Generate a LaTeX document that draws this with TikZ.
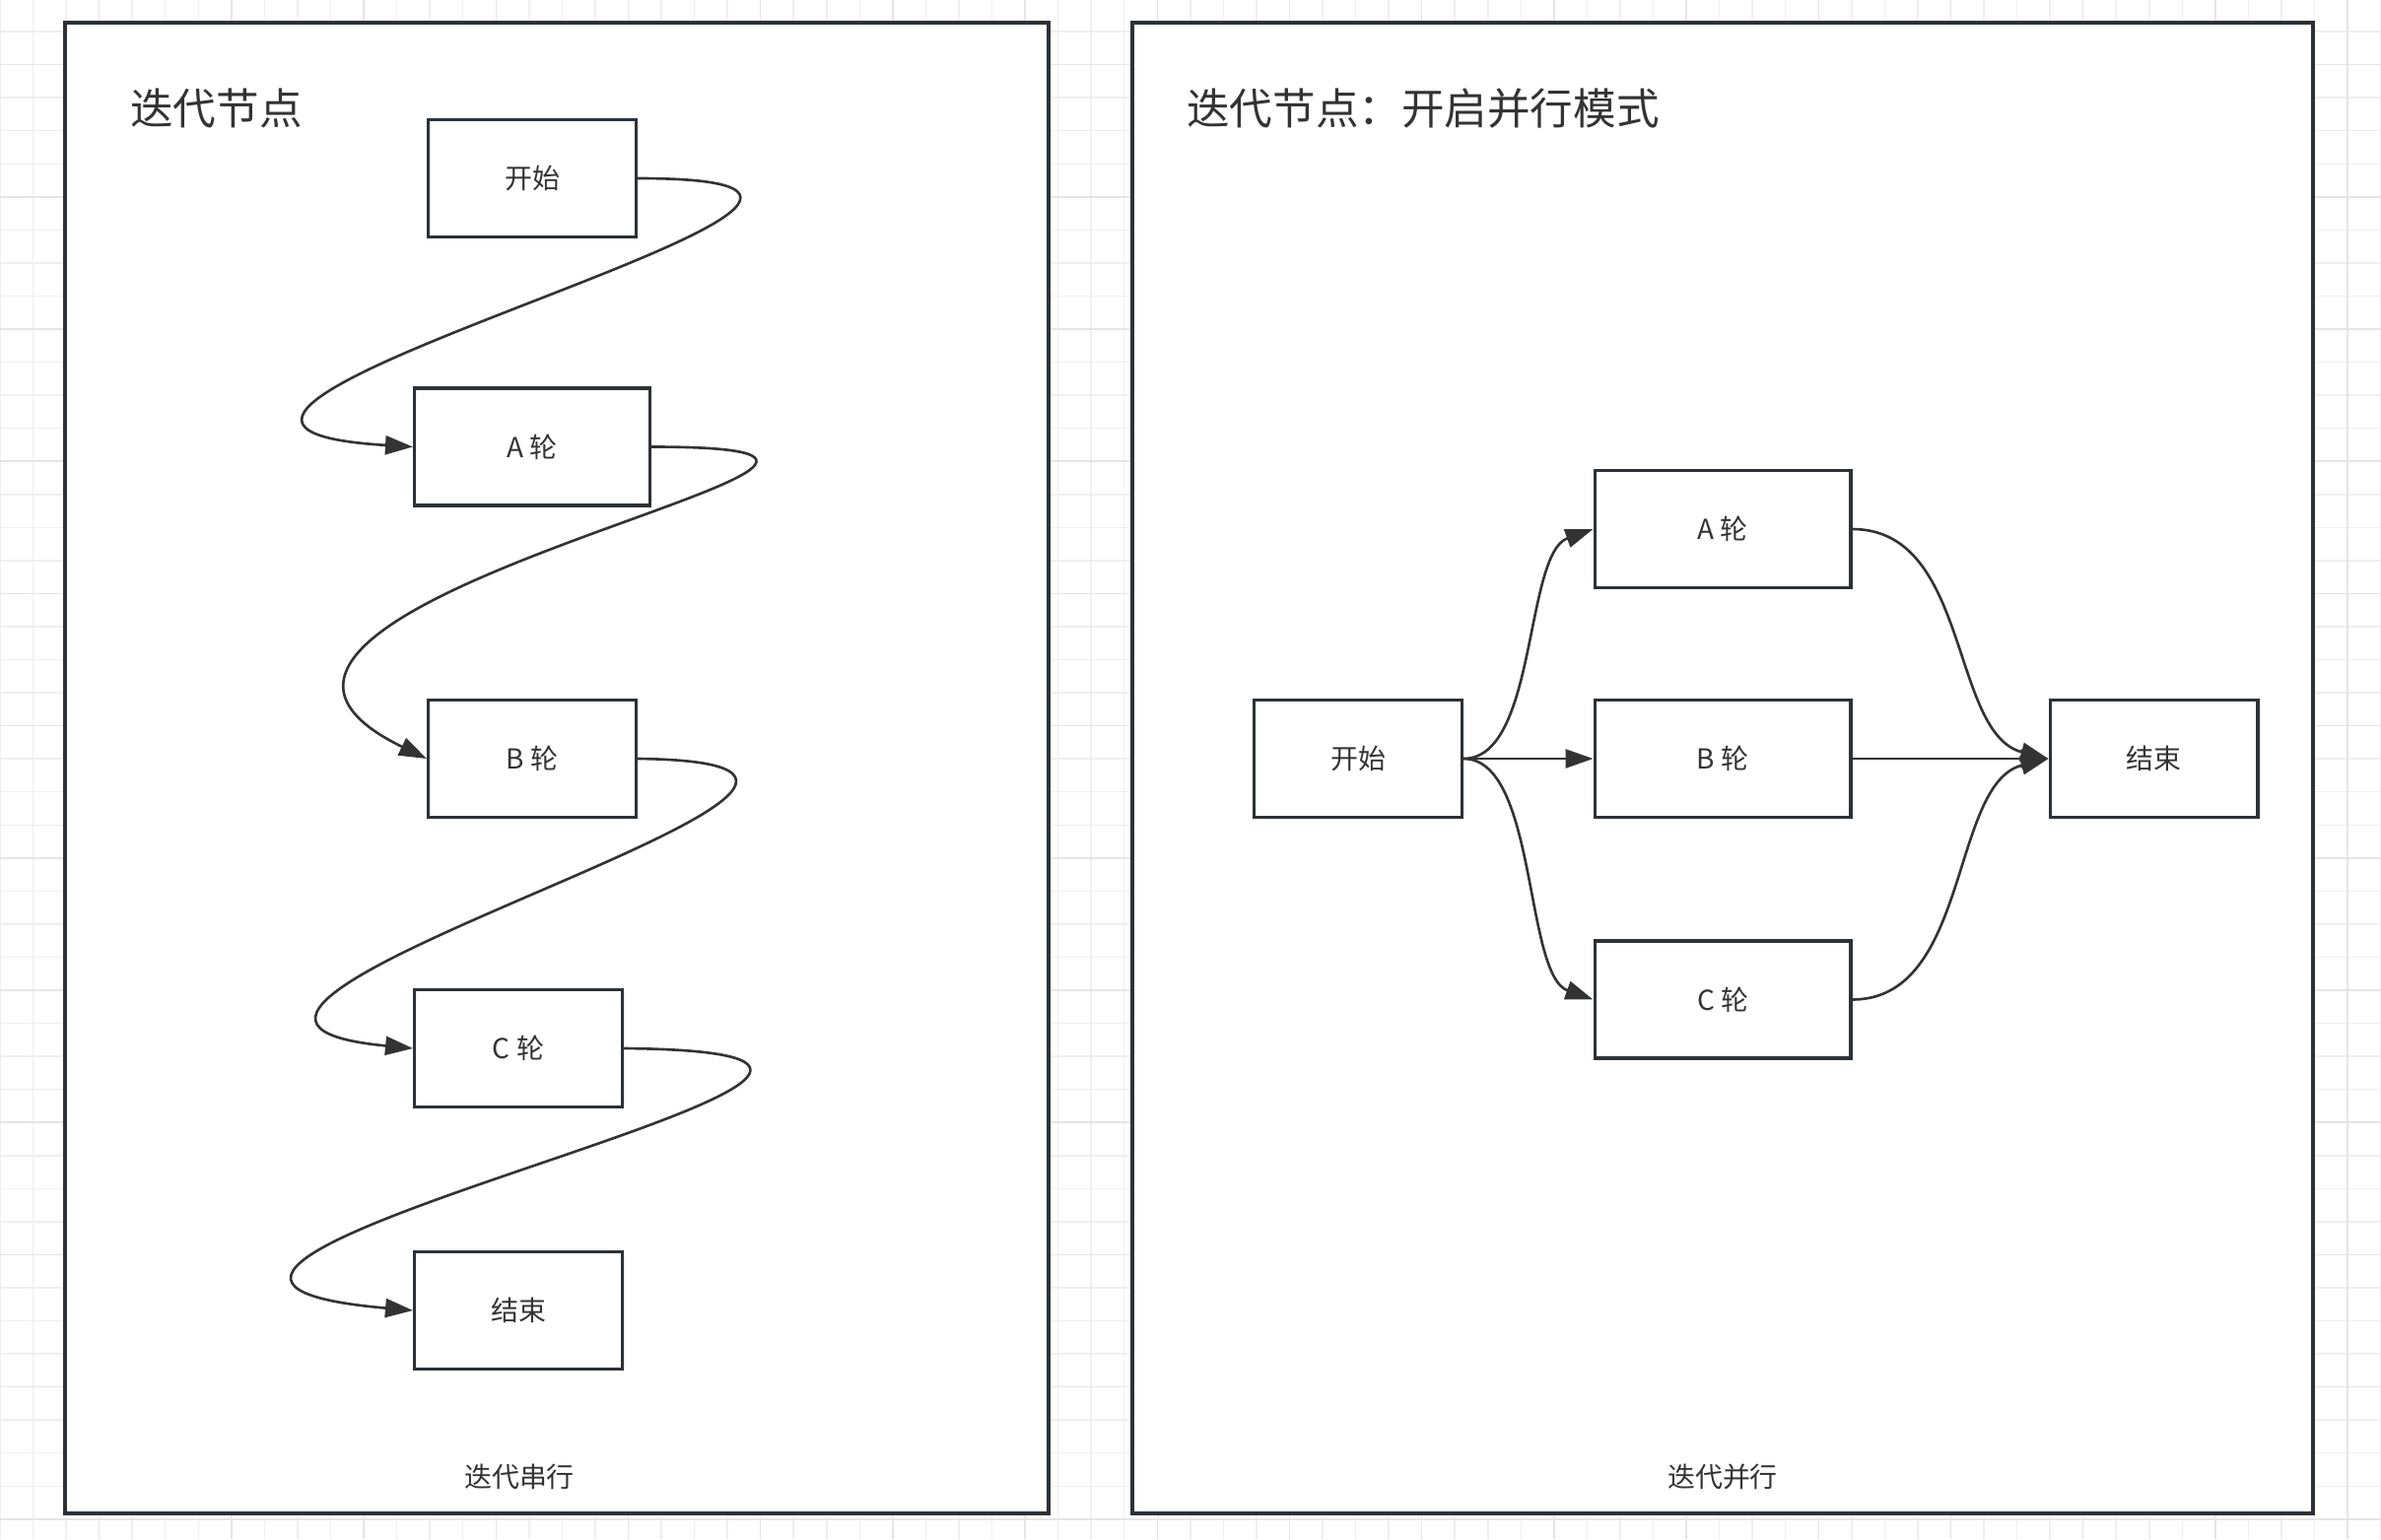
\documentclass[tikz,border=0pt]{standalone}
\usepackage{fontspec}
\setmainfont{Noto Sans CJK SC}
\usetikzlibrary{arrows.meta}
\definecolor{gridminor}{HTML}{EFEFEF}
\definecolor{gridmajor}{HTML}{E5E5E5}
\definecolor{ink}{HTML}{333333}
\definecolor{frame}{HTML}{2C3237}
\begin{document}
\begin{tikzpicture}[x=0.02cm, y=-0.02cm,
  box/.style={draw=frame, line width=1.75pt, fill=white, inner sep=0pt, minimum height=2.38cm, font=\fontsize{15.9}{19}\selectfont, text=ink},
  panel/.style={draw=frame, line width=1.9pt, fill=white},
  flow/.style={draw=ink, line width=1.5pt, -{Triangle[length=0.56cm,width=0.38cm]}},
  title/.style={font=\fontsize{24.8}{30}\selectfont, text=ink, anchor=west, inner sep=0pt},
  caption/.style={font=\fontsize{15.9}{19}\selectfont, text=ink, inner sep=0pt},
  gminor/.style={draw=gridminor, line width=0.85pt},
  gmajor/.style={draw=gridmajor, line width=0.85pt},
]
\useasboundingbox (0,0) rectangle (2416,1562);
\fill[white] (0,0) rectangle (2416,1562);
\begin{scope}
\clip (0,0) rectangle (2416,1562);
\foreach \k in {0,...,72} \draw[gminor] ({33.55*\k},0) -- ({33.55*\k},1562);
\foreach \k in {0,...,47} \draw[gminor] (0,{33.55*\k-1.5}) -- (2416,{33.55*\k-1.5});
\foreach \k in {3,7,...,71} \draw[gmajor] ({33.55*\k},0) -- ({33.55*\k},1562);
\foreach \k in {2,6,...,46} \draw[gmajor] (0,{33.55*\k-1.5}) -- (2416,{33.55*\k-1.5});
\end{scope}

% panels
\draw[panel] (66,23) rectangle (1064,1536);
\draw[panel] (1149,23) rectangle (2347,1536);

% titles and captions
\node[title] (t1) at (132,110) {迭代节点};
\node[title] (t2) at (1204,110) {迭代节点：开启并行模式};
\node[caption] (c1) at (527,1499) {迭代串行};
\node[caption] (c2) at (1748,1499) {迭代并行};

% left: serial
\node[box, minimum width=4.22cm] (l0) at (540,181) {开始};
\node[box, minimum width=4.78cm] (la) at (540,453.5) {A 轮};
\node[box, minimum width=4.22cm] (lb) at (540,770) {B 轮};
\node[box, minimum width=4.22cm] (lc) at (526,1064) {C 轮};
\node[box, minimum width=4.22cm] (le) at (526,1330) {结束};

\draw[flow] (l0.east) .. controls +(432,0) and +(-414,-25) .. (la.west);
\draw[flow] (la.east) .. controls +(420,0) and +(-330,-160) .. (lb.west);
\draw[flow] (lb.east) .. controls +(410,5) and +(-368,-35) .. (lc.west);
\draw[flow] (lc.east) .. controls +(505,5) and +(-458,-40) .. (le.west);

% right: parallel
\node[box, minimum width=4.22cm] (r0) at (1378,770) {开始};
\node[box, minimum width=5.2cm] (ra) at (1748,537) {A 轮};
\node[box, minimum width=5.2cm] (rb) at (1748,770) {B 轮};
\node[box, minimum width=5.2cm] (rc) at (1748,1014.5) {C 轮};
\node[box, minimum width=4.22cm] (re) at (2185.5,770) {结束};

\draw[flow] (r0.east) .. controls +(75,0) and +(-70,25) .. (ra.west);
\draw[flow] (r0.east) -- (rb.west);
\draw[flow] (r0.east) .. controls +(75,0) and +(-70,-25) .. (rc.west);
\draw[flow] (ra.east) .. controls +(120,0) and +(-100,-25) .. (re.west);
\draw[flow] (rb.east) -- (re.west);
\draw[flow] (rc.east) .. controls +(120,0) and +(-100,25) .. (re.west);
\end{tikzpicture}
\end{document}
